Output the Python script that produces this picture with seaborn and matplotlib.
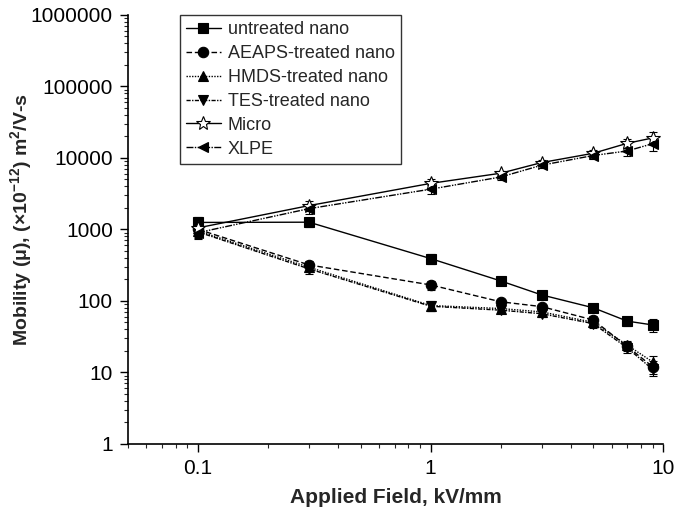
import matplotlib
matplotlib.use("Agg")
import matplotlib.pyplot as plt
import seaborn as sns
import numpy as np
import pandas as pd
from matplotlib.ticker import LogLocator, NullFormatter, FixedLocator, FixedFormatter

# ---- data ----
field = [0.1, 0.3, 1, 2, 3, 5, 7, 9]
untreated = [1250, 1260, 390, 190, 121, 80, 52, 46]
aeaps = [1000, 318, 167, 97, 83, 54, 23, 12]
hmds = [950, 295, 86, 78, 70, 50, 24, 14]
tes = [920, 280, 84, 74, 66, 48, 22, 11]
micro = [1050, 2150, 4400, 6100, 8600, 11600, 16000, 19000]
xlpe = [900, 1950, 3650, 5400, 7900, 10800, 12500, 15800]
err_frac = [0.18, 0.15, 0.15, 0.08, 0.1, 0.12, 0.15, 0.2]

series_names = ["untreated nano", "AEAPS-treated nano", "HMDS-treated nano",
                "TES-treated nano", "Micro", "XLPE"]
series_vals = [untreated, aeaps, hmds, tes, micro, xlpe]

styles = {
    "untreated nano": dict(ls="-", marker="s", mfc="k"),
    "AEAPS-treated nano": dict(ls=(0, (4, 2)), marker="o", mfc="k"),
    "HMDS-treated nano": dict(ls=(0, (1, 1)), marker="^", mfc="k"),
    "TES-treated nano": dict(ls=(0, (3, 1, 1, 1)), marker="v", mfc="k"),
    "Micro": dict(ls="-", marker="*", mfc="white"),
    "XLPE": dict(ls=(0, (5, 1, 1, 1, 1, 1)), marker="<", mfc="k"),
}

sns.set_style("ticks")
plt.rcParams["font.family"] = ["Liberation Sans", "DejaVu Sans"]
plt.rcParams["mathtext.fontset"] = "custom"
plt.rcParams["mathtext.rm"] = "Liberation Sans:bold"
plt.rcParams["mathtext.it"] = "Liberation Sans:bold"
plt.rcParams["mathtext.bf"] = "Liberation Sans:bold"

fig = plt.figure(figsize=(6.74, 5.16), dpi=100)
ax = fig.add_axes([0.19, 0.14, 0.794, 0.831])

for name, vals in zip(series_names, series_vals):
    st = styles[name]
    df = pd.DataFrame({"x": field, "y": vals})
    sns.lineplot(data=df, x="x", y="y", ax=ax, color="k", linewidth=1.0,
                 linestyle=st["ls"], marker=st["marker"], markersize=10 if st["marker"] == "*" else 7.5,
                 markerfacecolor=st["mfc"], markeredgecolor="k", markeredgewidth=0.8,
                 label=name, zorder=3)
    yerr = np.array(vals) * np.array(err_frac)
    ax.errorbar(field, vals, yerr=yerr, fmt="none", ecolor="k", elinewidth=0.8,
                capsize=3, capthick=0.8, zorder=2)

ax.set_xscale("log")
ax.set_yscale("log")
ax.set_xlim(0.05, 10)
ax.set_ylim(1, 1e6)

ax.xaxis.set_major_locator(FixedLocator([0.1, 1, 10]))
ax.xaxis.set_major_formatter(FixedFormatter(["0.1", "1", "10"]))
ax.xaxis.set_minor_locator(LogLocator(base=10, subs=np.arange(2, 10), numticks=20))
ax.xaxis.set_minor_formatter(NullFormatter())
yt = [1, 10, 100, 1000, 10000, 100000, 1000000]
ax.yaxis.set_major_locator(FixedLocator(yt))
ax.yaxis.set_major_formatter(FixedFormatter([str(v) for v in yt]))
ax.yaxis.set_minor_locator(LogLocator(base=10, subs=np.arange(2, 10), numticks=20))
ax.yaxis.set_minor_formatter(NullFormatter())

ax.tick_params(axis="both", which="major", direction="out", length=6, width=1, labelsize=15, colors="k")
ax.tick_params(axis="both", which="minor", direction="out", length=3, width=0.8)
ax.tick_params(axis="x", which="major", pad=5)
ax.tick_params(axis="y", which="major", pad=5)
for s in ["top", "right"]:
    ax.spines[s].set_visible(False)
for s in ["left", "bottom"]:
    ax.spines[s].set_linewidth(1.2)
    ax.spines[s].set_color("k")

ax.set_xlabel("Applied Field, kV/mm", fontsize=15, fontweight="bold", labelpad=7)
ax.set_ylabel(r"Mobility ($\mu$), ($\times$10$^{-12}$) m$^{2}$/V-s", fontsize=14,
              fontweight="bold")
ax.yaxis.set_label_coords(-0.176, 0.522)

leg = ax.legend(loc="upper left", bbox_to_anchor=(0.097, 1.0), frameon=True, fancybox=False,
                edgecolor="k", fontsize=13, handlelength=1.9, handletextpad=0.4,
                borderaxespad=0.0, labelspacing=0.38, borderpad=0.35)
leg.get_frame().set_linewidth(1.0)

fig.savefig("out.png", dpi=100)
